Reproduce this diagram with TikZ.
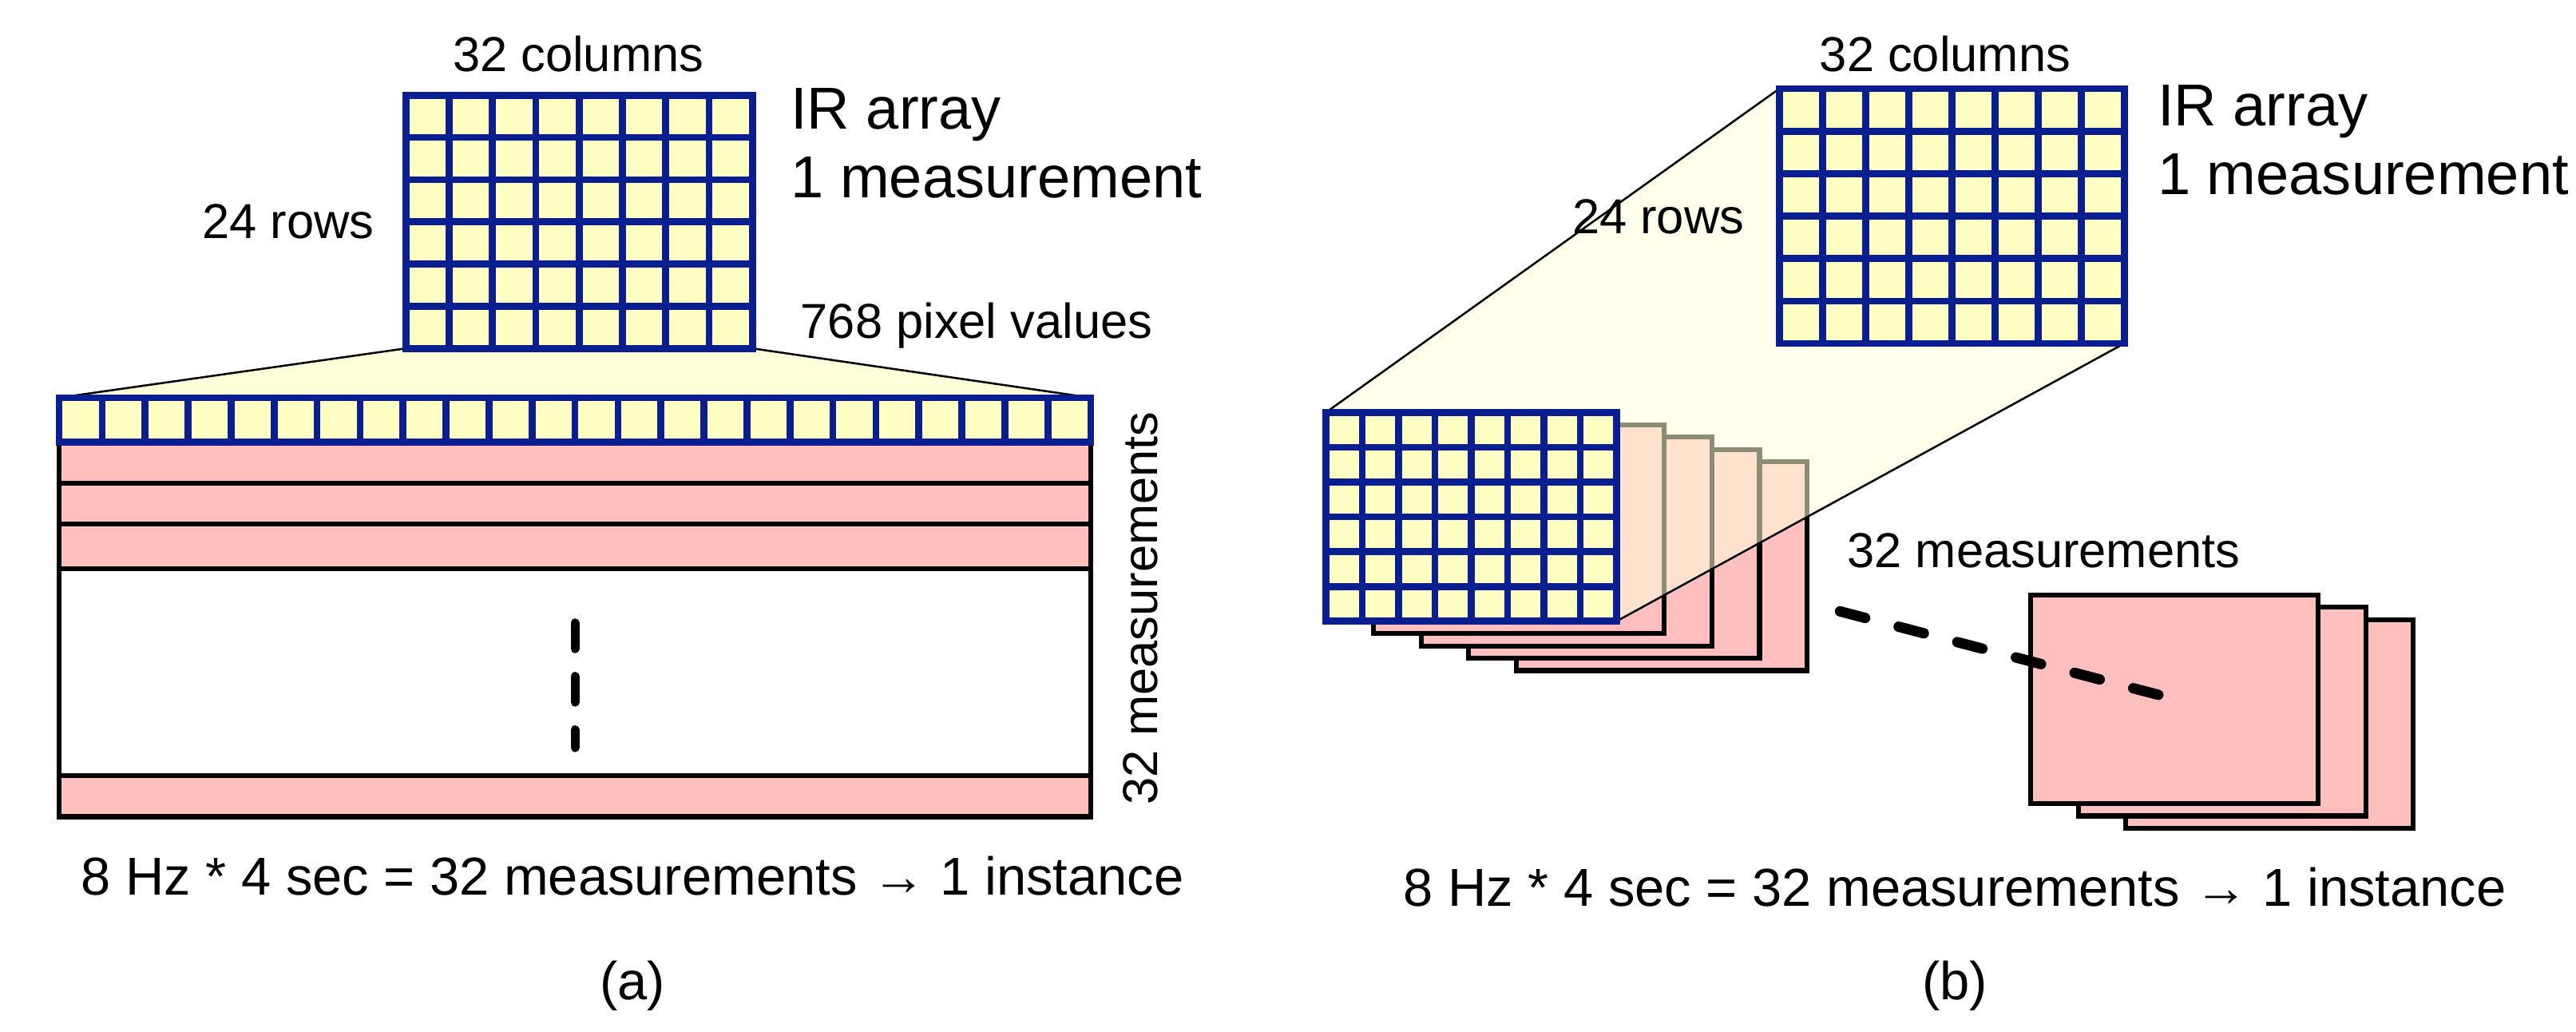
\documentclass[tikz,border=0pt]{standalone}
\usepackage{fontspec}
\setmainfont{Liberation Sans}
\definecolor{cyel}{HTML}{FFFFC4}
\definecolor{cwedge}{HTML}{FFFFDA}
\definecolor{cpink}{HTML}{FFBFBF}
\definecolor{cblue}{HTML}{0A1F8F}
\tikzset{
  gridline/.style={draw=cblue,line width=2.4pt},
  blk/.style={draw=black,line width=1.7pt},
  wedgeline/.style={draw=black,line width=0.7pt},
  lbl/.style={font=\fontsize{17}{20}\selectfont,inner sep=0pt},
  big/.style={font=\fontsize{20.5}{24}\selectfont,inner sep=0pt},
  captxt/.style={font=\fontsize{18.5}{22}\selectfont,inner sep=0pt},
}
\newcommand\mygrid[6]{% x0 y0 x1 y1 cols rows
  \fill[cyel] (#1,#2) rectangle (#3,#4);
  \pgfmathsetmacro\dxx{(#3-#1)/#5}\pgfmathsetmacro\dyy{(#4-#2)/#6}
  \foreach \i in {1,...,#5}{\pgfmathsetmacro\xx{#1+\i*\dxx}\draw[gridline] (\xx,#2) -- (\xx,#4);}
  \foreach \j in {1,...,#6}{\pgfmathsetmacro\yy{#2+\j*\dyy}\draw[gridline] (#1,\yy) -- (#3,\yy);}
  \draw[gridline,line join=miter] (#1,#2) rectangle (#3,#4);}
\begin{document}
\begin{tikzpicture}[x=0.02cm,y=-0.02cm]
\useasboundingbox (0,0) rectangle (1568,627.5);
% ---------------- (a)
\fill[cwedge] (247,212) -- (458,212) -- (664,242) -- (36,242) -- cycle;
\draw[wedgeline] (247,212) -- (36,242) (458,212) -- (664,242);
\mygrid{247}{58}{458}{212}{8}{6}
\fill[cpink] (36,269) rectangle (664,346);
\fill[cpink] (36,472) rectangle (664,497);
\draw[blk] (36,294) -- (664,294) (36,319) -- (664,319) (36,346) -- (664,346) (36,472) -- (664,472);
\draw[blk,line join=miter] (36,242) rectangle (664,497);
\mygrid{36}{242}{664}{269}{24}{1}
\draw[line width=3pt,line cap=round,dash pattern=on 9pt off 9.5pt] (350,379) -- (350,455);
\node[lbl] (ca) at (352,33) {32 columns};
\node[lbl,anchor=east] (ra) at (228,135) {24 rows};
\node[big,anchor=west] (ira) at (481,70) {IR array};
\node[big,anchor=west] (ma) at (481,108) {1 measurement};
\node[lbl,anchor=west] (pa) at (487,198) {768 pixel values};
\node[lbl,rotate=90] (sa) at (694,370) {32 measurements};
\node[captxt] (ta) at (385,533) {8 Hz * 4 sec = 32 measurements → 1 instance};
\node[captxt] (la) at (385,600) {(a)};
% ---------------- (b)
\foreach \k in {4,3,2,1}{
  \fill[cpink,draw=black,line width=1.7pt,line join=miter] ({807+29*\k},{251+7.5*\k}) rectangle ({984+29*\k},{378+7.5*\k});}
\fill[cwedge,opacity=0.55] (807,251) -- (1083,54) -- (1293,54) -- (1293,209) -- (984,378) -- (807,378) -- cycle;
\draw[wedgeline] (807,251) -- (1083,54) (1293,209) -- (984,378);
\mygrid{807}{251}{984}{378}{8}{6}
\mygrid{1083}{54}{1293}{209}{8}{6}
\foreach \k in {2,1,0}{
  \fill[cpink,draw=black,line width=1.7pt,line join=miter] ({1236+29*\k},{362+7.5*\k}) rectangle ({1411+29*\k},{489+7.5*\k});}
\coordinate (d1) at (1120,372); \coordinate (d2) at (1326,426);
\draw[line width=3.6pt,line cap=round,dash pattern=on 9pt off 12pt] (d1) -- (d2);
\node[lbl] (cb) at (1184,33) {32 columns};
\node[lbl,anchor=east] (rb) at (1062,132) {24 rows};
\node[big,anchor=west] (irb) at (1313,68) {IR array};
\node[big,anchor=west] (mb) at (1313,106) {1 measurement};
\node[lbl] (sb) at (1244,335) {32 measurements};
\node[captxt] (tb) at (1190,540) {8 Hz * 4 sec = 32 measurements → 1 instance};
\node[captxt] (lb) at (1190,600) {(b)};
\end{tikzpicture}
\end{document}
